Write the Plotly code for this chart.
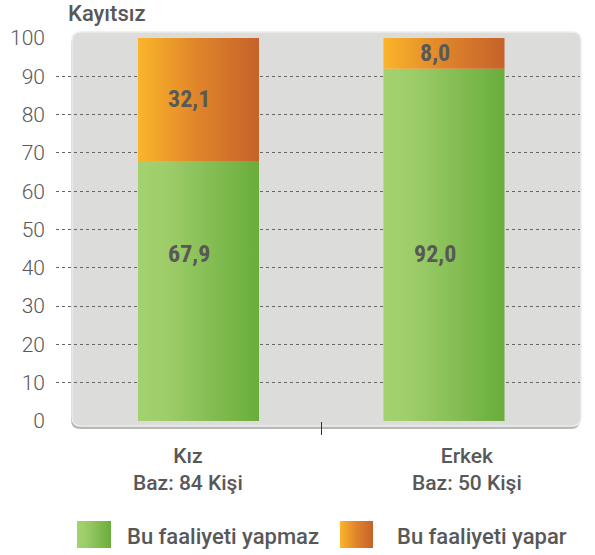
import plotly.graph_objects as go

# --- data -------------------------------------------------------------
group_names = ["Kız", "Erkek"]
group_bases = ["Baz: 84 Kişi", "Baz: 50 Kişi"]
yapmaz = [67.9, 92.0]   # Bu faaliyeti yapmaz
yapar = [32.1, 8.0]     # Bu faaliyeti yapar
series_names = ["Bu faaliyeti yapmaz", "Bu faaliyeti yapar"]
y_ticks = [0, 10, 20, 30, 40, 50, 60, 70, 80, 90, 100]
title_text = "Kayıtsız"

# --- style --------------------------------------------------------------
W, H = 595, 555
TEXT = "#585858"
FONT = "Roboto"
NARROW = "Liberation Sans Narrow, Roboto Condensed, DejaVu Sans Condensed"
green_scale = [[0, "#a5d270"], [0.25, "#9dcc69"], [1, "#69ad3b"]]
orange_scale = [[0, "#fbb52b"], [0.5, "#df842a"], [1, "#c5622a"]]
scales = [green_scale, orange_scale]
bar_half = 0.2465
lower_label_level = 43.5          # lower-segment values sit on one common level
value_label_shift = -9            # px
group_label_shift = [-10, 23]     # px

# plot window in pixels (left, right, top, bottom)
PX_L, PX_R, PX_T, PX_B = 56, 580, 38, 421


def px_x(x):
    return x / W


def px_y(y):
    return (H - y) / H


def rounded_rect(x0, y0, x1, y1, r):
    """SVG path of a rounded rectangle given in pixels, in paper units."""
    pts = [
        ("M", [(x0 + r, y0)]),
        ("L", [(x1 - r, y0)]),
        ("Q", [(x1, y0), (x1, y0 + r)]),
        ("L", [(x1, y1 - r)]),
        ("Q", [(x1, y1), (x1 - r, y1)]),
        ("L", [(x0 + r, y1)]),
        ("Q", [(x0, y1), (x0, y1 - r)]),
        ("L", [(x0, y0 + r)]),
        ("Q", [(x0, y0), (x0 + r, y0)]),
    ]
    out = []
    for cmd, ps in pts:
        out.append(cmd + " ".join(f"{px_x(a):.5f},{px_y(b):.5f}" for a, b in ps))
    return " ".join(out) + " Z"


fig = go.Figure()

# --- stacked gradient bars ---------------------------------------------------
for s, values in enumerate([yapmaz, yapar]):
    for i, v in enumerate(values):
        base = yapmaz[i] if s == 1 else 0
        top = base + v
        x0, x1 = i - bar_half, i + bar_half
        fig.add_trace(go.Scatter(
            x=[x0, x1, x1, x0, x0],
            y=[base, base, top, top, base],
            mode="lines",
            line=dict(width=0),
            fill="toself",
            fillgradient=dict(type="horizontal", colorscale=scales[s],
                              start=x0, stop=x1),
            name=series_names[s],
            showlegend=False,
            hoverinfo="skip",
        ))
        fig.add_annotation(
            x=i, y=lower_label_level if s == 0 else base + v / 2,
            xref="x", yref="y", xshift=value_label_shift,
            text=f"{v:.1f}".replace(".", ","),
            showarrow=False,
            font=dict(family=NARROW, size=24, color=TEXT, weight="bold"),
        )

# --- category labels under the bars ---------------------------------------
for i, (name, base_txt) in enumerate(zip(group_names, group_bases)):
    fig.add_annotation(
        x=i, y=px_y(469), xref="x", yref="paper",
        xshift=group_label_shift[i], yanchor="middle",
        text=f"{name}<br>{base_txt}", showarrow=False,
        font=dict(family=FONT, size=21, color=TEXT, weight=500),
    )

# --- legend swatches on a helper axis measured in pixels -----------------
legend_items = [(77, 111, 125), (340, 373, 395)]
for s, (sx0, sx1, tx) in enumerate(legend_items):
    yb, yt = H - 548, H - 521
    fig.add_trace(go.Scatter(
        x=[sx0, sx1, sx1, sx0, sx0],
        y=[yb, yb, yt, yt, yb],
        xaxis="x2", yaxis="y2",
        mode="lines", line=dict(width=0), fill="toself",
        fillgradient=dict(type="horizontal", colorscale=scales[s],
                          start=sx0, stop=sx1),
        showlegend=False, hoverinfo="skip",
    ))
    fig.add_annotation(
        x=px_x(tx), y=px_y(536), xref="paper", yref="paper",
        xanchor="left", yanchor="middle", showarrow=False,
        text=series_names[s],
        font=dict(family=FONT, size=22, color=TEXT, weight=500),
    )

# --- plot background panel ----------------------------------------------------
shapes = [
    dict(type="path", xref="paper", yref="paper", layer="below",
         path=rounded_rect(71, 35, 580, 429, 9),
         fillcolor="#b9b9b9", line=dict(width=0)),
    dict(type="path", xref="paper", yref="paper", layer="below",
         path=rounded_rect(72, 32, 581, 426, 9),
         fillcolor="#dcdcdb", line=dict(color="#ededed", width=1.5)),
]

fig.add_annotation(
    x=px_x(66), y=px_y(14), xref="paper", yref="paper",
    xanchor="left", yanchor="middle", showarrow=False,
    text=title_text,
    font=dict(family=FONT, size=22, color=TEXT, weight=500),
)

fig.update_layout(
    width=W, height=H,
    margin=dict(l=0, r=0, t=0, b=0, autoexpand=False),
    paper_bgcolor="white",
    plot_bgcolor="rgba(0,0,0,0)",
    showlegend=False,
    shapes=shapes,
    xaxis=dict(
        domain=[px_x(PX_L), px_x(PX_R)],
        range=[-0.5804, 1.554],
        tickvals=[0, 1], ticktext=["", ""],
        ticks="", showgrid=False, zeroline=False, showline=False,
        minor=dict(tickvals=[0.5], ticks="outside", ticklen=13,
                   tickcolor="#333", tickwidth=1, showgrid=False),
        fixedrange=True,
    ),
    yaxis=dict(
        domain=[px_y(PX_B), px_y(PX_T)],
        range=[0, 100],
        tickvals=y_ticks,
        showgrid=True, gridcolor="#666", gridwidth=1, griddash="3px,3px",
        zeroline=False, showline=False, ticks="",
        tickfont=dict(family=FONT, size=21, color=TEXT, weight=300),
        ticklabelstandoff=10,
        fixedrange=True,
    ),
    xaxis2=dict(domain=[0, 1], range=[0, W], anchor="y2", visible=False,
                fixedrange=True),
    yaxis2=dict(domain=[0, 60 / H], range=[0, 60], anchor="x2", visible=False,
                fixedrange=True),
)

fig.write_html("out.html")
